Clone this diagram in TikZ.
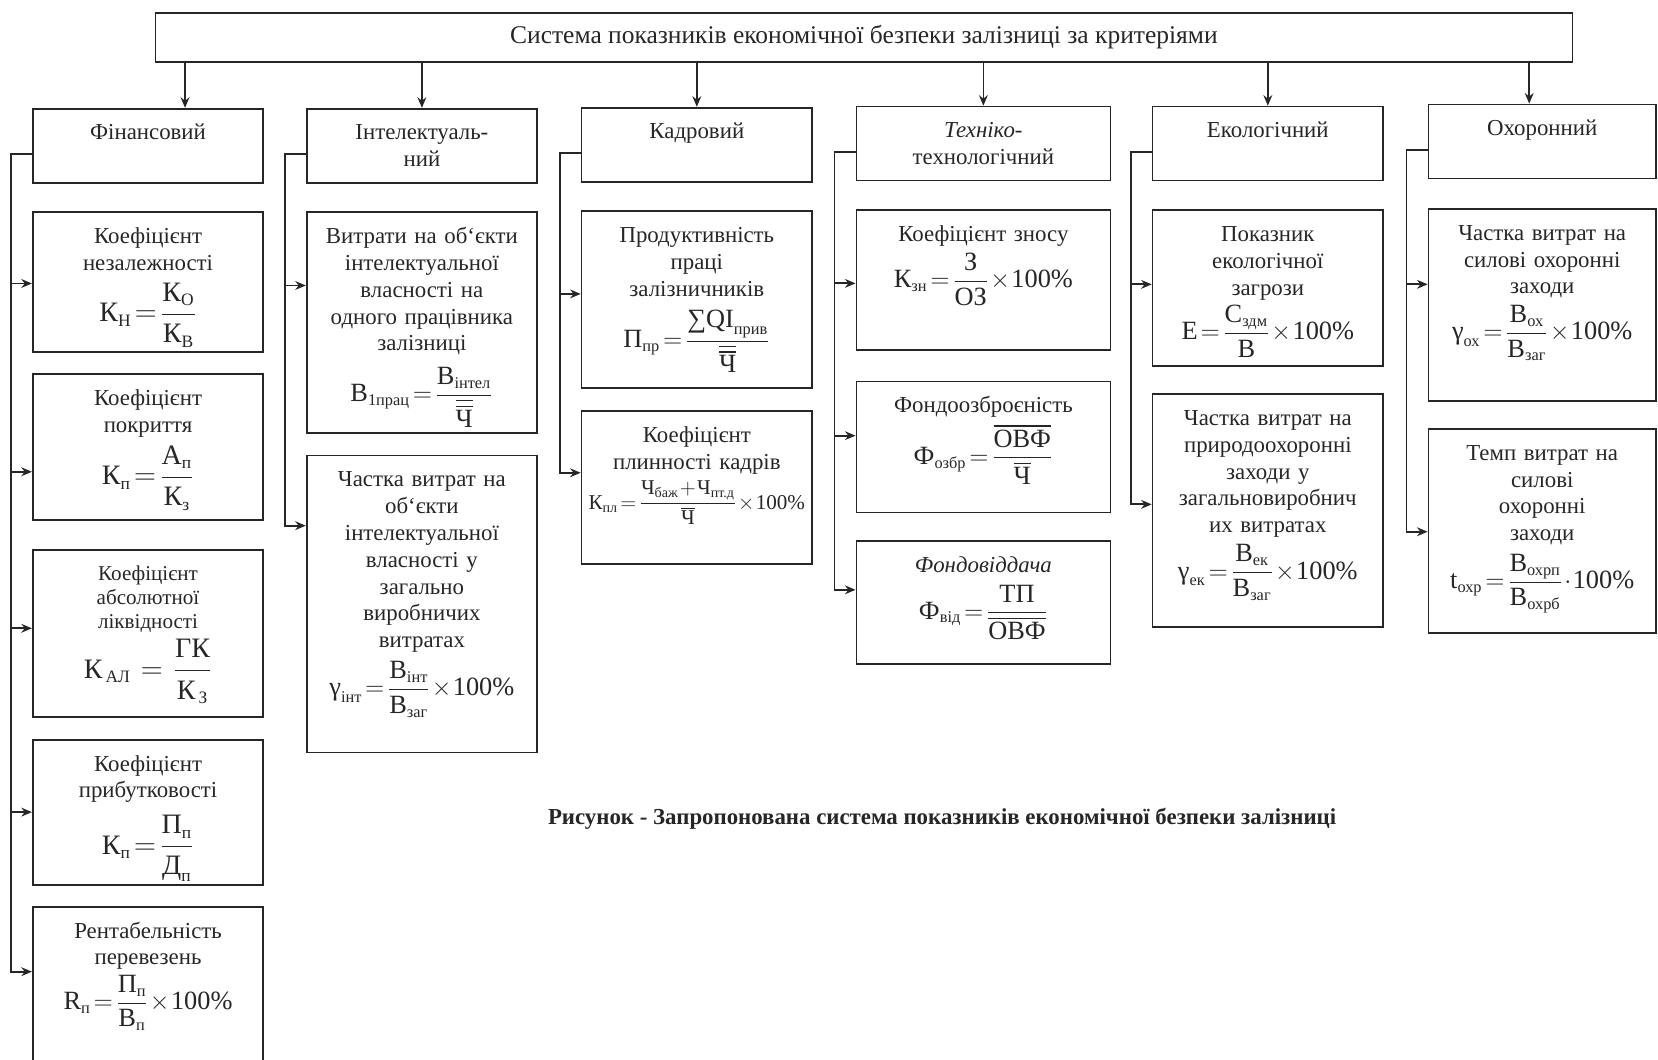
\documentclass[tikz,border=0pt]{standalone}
\usepackage{amsmath,amssymb}
\usepackage{fontspec}
\setmainfont{Liberation Serif}
\usetikzlibrary{arrows.meta}
\renewcommand{\defaultscriptratio}{.62}
\newcommand{\kt}[1]{\text{#1}}
\newcommand{\fm}[2][15]{\mbox{\fontsize{#1}{#1}\selectfont\thickmuskip=2mu\medmuskip=1mu$\displaystyle #2$}}

\begin{document}
\begin{tikzpicture}[x=0.02115cm,y=-0.02115cm,
    holovna/.style={rectangle,draw=black!85,line width=1pt,minimum width=28.34cm,minimum height=0.99cm,inner sep=0pt,font=\fontsize{14.5}{16}\selectfont,text=black!85},
    kryterij/.style={rectangle,draw=black!85,line width=1pt,anchor=north,text width=4.41cm,align=center,inner xsep=0.1cm,inner ysep=0.2cm,text height=0.42cm,text depth=0.66cm,font=\fontsize{13}{15.3}\selectfont,text=black!85},
    pokaznyk/.style={kryterij,text depth=#1},
    shyrokyj/.style={text width=4.88cm},
    vuzkyj/.style={text width=4.35cm},
    lin/.style={draw=black!85,line width=1pt},
    arr/.style={lin,-{Stealth[length=6pt,width=5pt]}}]

\useasboundingbox (0,0) rectangle (1568,1002);
\clip (0,0) rectangle (1568,1002);

\node[holovna] (top) at (817,35.5) {Система показників економічної безпеки залізниці за критеріями};

% criteria
\node[kryterij] (c1) at (140,102) {Фінансовий};
\node[kryterij] (c2) at (399,102) {Інтелектуаль-\\ний};
\node[kryterij] (c3) at (659,101) {Кадровий};
\node[kryterij,shyrokyj] (c4) at (930,100) {\textit{Техніко-}\\технологічний};
\node[kryterij] (c5) at (1199,100) {Екологічний};
\node[kryterij,vuzkyj] (c6) at (1458.5,98) {Охоронний};

% financial
\node[pokaznyk=1.97cm] (k11) at (140,200) {Коефіцієнт\\незалежності\\[6pt]
  \fm[16]{\kt{К}_{\kt{Н}}=\dfrac{\kt{К}_{\kt{О}}}{\kt{К}_{\kt{В}}}}};
\node[pokaznyk=2.10cm] (k12) at (140,353) {Коефіцієнт\\покриття\\[4pt]
  \fm[16]{\kt{К}_{\kt{п}}=\dfrac{\kt{А}_{\kt{п}}}{\kt{К}_{\kt{з}}}}};
\node[pokaznyk=2.52cm,font=\fontsize{12}{13.5}\selectfont] (k13) at (140,519) {Коефіцієнт\\абсолютної\\ліквідності\\[3pt]
  \fm[16]{\kt{К}_{\,\kt{АЛ}}\;\;=\;\;\dfrac{\kt{ГК}}{\kt{К}_{\,\kt{З}}}}};
\node[pokaznyk=2.08cm] (k14) at (140,699) {Коефіцієнт\\прибутковості\\[6pt]
  \fm[16]{\kt{К}_{\kt{п}}=\dfrac{\kt{П}_{\kt{п}}}{\kt{Д}_{\kt{п}}}}};
\node[pokaznyk=2.78cm] (k15) at (140,857) {Рентабельність\\перевезень\\[2pt]
  \fm{\kt{R}_{\kt{п}}=\dfrac{\kt{П}_{\kt{п}}}{\kt{В}_{\kt{п}}}\times\kt{100\%}}};

% intellectual
\node[pokaznyk=3.60cm] (k21) at (399,200) {Витрати на об‘єкти\\інтелектуальної\\власності на\\одного працівника\\залізниці\\[6pt]
  \fm{\kt{В}_{\kt{1прац}}=\dfrac{\kt{В}_{\kt{інтел}}}{\overline{\overline{\kt{Ч}}}}}};
\node[pokaznyk=5.12cm] (k22) at (399,430) {Частка витрат на\\об‘єкти\\інтелектуальної\\власності у\\загально\\виробничих\\витратах\\[4pt]
  \fm{\kt{γ}_{\kt{інт}}=\dfrac{\kt{В}_{\kt{інт}}}{\kt{В}_{\kt{заг}}}\times\kt{100\%}}};

% personnel
\node[pokaznyk=2.71cm] (k31) at (659,199) {Продуктивність\\праці\\залізничників\\[7pt]
  \fm{\kt{П}_{\kt{пр}}=\dfrac{\kt{∑QI}_{\kt{прив}}}{\overline{\overline{\kt{Ч}}}}}};
\node[pokaznyk=2.23cm] (k32) at (659,388) {Коефіцієнт\\плинності кадрів\\[3pt]
  \fm[12]{\kt{К}_{\kt{пл}}=\dfrac{\kt{Ч}_{\kt{баж}}+\kt{Ч}_{\kt{пт.д}}}{\overline{\kt{Ч}}}\times\kt{100\%}}};

% technical
\node[pokaznyk=1.97cm,shyrokyj] (k41) at (930,198) {Коефіцієнт зносу\\[3pt]
  \fm{\kt{К}_{\kt{зн}}=\dfrac{\kt{З}}{\kt{ОЗ}}\times\kt{100\%}}};
\node[pokaznyk=1.80cm,shyrokyj] (k42) at (930,360) {Фондоозброєність\\[3pt]
  \fm{\kt{Ф}_{\kt{озбр}}=\dfrac{\overline{\kt{ОВФ}}}{\overline{\kt{Ч}}}}};
\node[pokaznyk=1.63cm,shyrokyj] (k43) at (930,511) {\textit{Фондовіддача}\\[6pt]
  \fm{\kt{Ф}_{\kt{від}}=\dfrac{\kt{ТП}}{\overline{\kt{ОВФ}}}}};

% ecological
\node[pokaznyk=2.29cm] (k51) at (1199,198) {Показник\\екологічної\\загрози\\[2pt]
  \fm{\kt{E}=\dfrac{\kt{С}_{\kt{здм}}}{\kt{В}}\times\kt{100\%}}};
\node[pokaznyk=3.83cm] (k52) at (1199,372) {Частка витрат на\\природоохоронні\\заходи у\\загальновиробнич\\их витратах\\[3pt]
  \fm{\kt{γ}_{\kt{ек}}=\dfrac{\kt{В}_{\kt{ек}}}{\kt{В}_{\kt{заг}}}\times\kt{100\%}}};

% security
\node[pokaznyk=3.01cm,vuzkyj] (k61) at (1458.5,197) {Частка витрат на\\силові охоронні\\заходи\\[3pt]
  \fm{\kt{γ}_{\kt{ох}}=\dfrac{\kt{В}_{\kt{ох}}}{\kt{В}_{\kt{заг}}}\times\kt{100\%}}};
\node[pokaznyk=3.26cm,vuzkyj] (k62) at (1458.5,405) {Темп витрат на\\силові\\охоронні\\заходи\\[4pt]
  \fm{\kt{t}_{\kt{охр}}=\dfrac{\kt{В}_{\kt{охрп}}}{\kt{В}_{\kt{охрб}}}\cdot\kt{100\%}}};

\node[font=\bfseries\fontsize{13}{15}\selectfont,text=black!85] (caption) at (891,774) {Рисунок - Запропонована система показників економічної безпеки залізниці};

% top arrows
\draw[arr] ([xshift=0.74cm]c1.north |- top.south) -- ([xshift=0.74cm]c1.north);
\foreach \c in {c2,c3,c4,c5}
  \draw[arr] (\c.north |- top.south) -- (\c.north);
\draw[arr] ([xshift=-0.26cm]c6.north |- top.south) -- ([xshift=-0.26cm]c6.north);

% buses
\foreach \c/\k/\d in {c1/k15/1.31cm,c2/k22/1.42cm,c3/k32/1.25cm,c4/k43/0.99cm,c5/k52/2.22cm,c6/k62/2.07cm}
  \draw[arr] ([yshift=-0.93cm]\c.north west) -- ++(-0.42cm,0) |- ([yshift=-\d]\k.north west);
\foreach \k/\d in {k11/1.44cm,k12/1.97cm,k13/1.59cm,k14/1.46cm,k21/1.48cm,k31/1.67cm,k41/1.48cm,k42/1.10cm,k51/1.50cm,k61/1.52cm}
  \draw[arr] ([xshift=-0.42cm,yshift=-\d]\k.north west) -- ([yshift=-\d]\k.north west);

\end{tikzpicture}
\end{document}
